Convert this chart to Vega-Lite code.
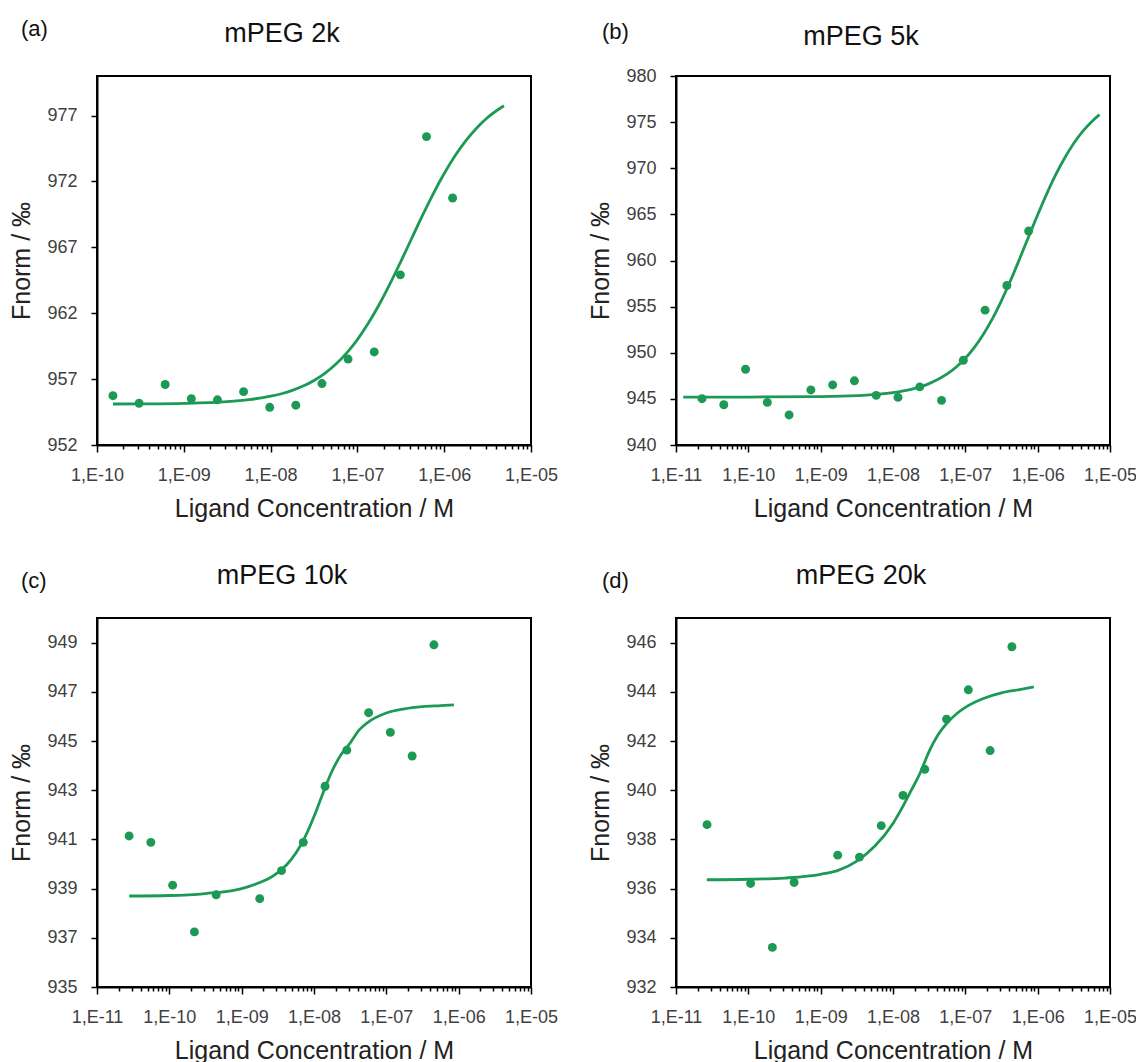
{
  "$schema": "https://vega.github.io/schema/vega-lite/v6.json",
  "background": "white",
  "padding": {"left": 8, "top": 18, "right": 0, "bottom": 0},
  "columns": 2,
  "spacing": {"row": 39, "column": 28},
  "config": {
    "font": "Liberation Sans",
    "view": {"stroke": "#000", "strokeWidth": 2},
    "axis": {"domainColor": "#000", "domainWidth": 2, "tickColor": "#000", "tickWidth": 1.5, "grid": false, "labelFont": "Liberation Sans", "labelFontSize": 18, "labelColor": "#404040", "titleFont": "Liberation Sans", "titleFontSize": 25, "titleFontWeight": "normal", "titleColor": "#222222"},
    "axisX": {"labelPadding": 14, "titlePadding": 12, "labelOverlap": false, "labelFlush": false, "labelBound": false},
    "axisY": {"tickSize": 6, "labelPadding": 14, "titlePadding": 12},
    "title": {"font": "Liberation Sans", "fontWeight": "normal", "color": "#111111"}
  },
  "datasets": {
    "pts": [
      {"p": "a", "c": 1.526e-10, "f": 955.74},
      {"p": "a", "c": 3.052e-10, "f": 955.17},
      {"p": "a", "c": 6.104e-10, "f": 956.59},
      {"p": "a", "c": 1.221e-9, "f": 955.51},
      {"p": "a", "c": 2.441e-9, "f": 955.43},
      {"p": "a", "c": 4.883e-9, "f": 956.05},
      {"p": "a", "c": 9.766e-9, "f": 954.86},
      {"p": "a", "c": 1.953e-8, "f": 955.02},
      {"p": "a", "c": 3.906e-8, "f": 956.66},
      {"p": "a", "c": 7.813e-8, "f": 958.52},
      {"p": "a", "c": 1.563e-7, "f": 959.06},
      {"p": "a", "c": 3.125e-7, "f": 964.91},
      {"p": "a", "c": 6.25e-7, "f": 975.4},
      {"p": "a", "c": 1.25e-6, "f": 970.74},
      {"p": "b", "c": 2.289e-11, "f": 945.02},
      {"p": "b", "c": 4.578e-11, "f": 944.36},
      {"p": "b", "c": 9.155e-11, "f": 948.21},
      {"p": "b", "c": 1.831e-10, "f": 944.62},
      {"p": "b", "c": 3.662e-10, "f": 943.26},
      {"p": "b", "c": 7.324e-10, "f": 945.97},
      {"p": "b", "c": 1.465e-9, "f": 946.52},
      {"p": "b", "c": 2.93e-9, "f": 946.96},
      {"p": "b", "c": 5.859e-9, "f": 945.38},
      {"p": "b", "c": 1.172e-8, "f": 945.16},
      {"p": "b", "c": 2.344e-8, "f": 946.3},
      {"p": "b", "c": 4.688e-8, "f": 944.84},
      {"p": "b", "c": 9.375e-8, "f": 949.19},
      {"p": "b", "c": 1.875e-7, "f": 954.62},
      {"p": "b", "c": 3.75e-7, "f": 957.29},
      {"p": "b", "c": 7.5e-7, "f": 963.19},
      {"p": "c", "c": 2.777e-11, "f": 941.14},
      {"p": "c", "c": 5.554e-11, "f": 940.88},
      {"p": "c", "c": 1.111e-10, "f": 939.14},
      {"p": "c", "c": 2.222e-10, "f": 937.24},
      {"p": "c", "c": 4.443e-10, "f": 938.75},
      {"p": "c", "c": 1.777e-9, "f": 938.59},
      {"p": "c", "c": 3.555e-9, "f": 939.73},
      {"p": "c", "c": 7.109e-9, "f": 940.88},
      {"p": "c", "c": 1.422e-8, "f": 943.16},
      {"p": "c", "c": 2.844e-8, "f": 944.63},
      {"p": "c", "c": 5.688e-8, "f": 946.15},
      {"p": "c", "c": 1.1375e-7, "f": 945.35},
      {"p": "c", "c": 2.275e-7, "f": 944.39},
      {"p": "c", "c": 4.55e-7, "f": 948.91},
      {"p": "d", "c": 2.686e-11, "f": 938.6},
      {"p": "d", "c": 1.074e-10, "f": 936.21},
      {"p": "d", "c": 2.148e-10, "f": 933.61},
      {"p": "d", "c": 4.297e-10, "f": 936.25},
      {"p": "d", "c": 1.719e-9, "f": 937.36},
      {"p": "d", "c": 3.438e-9, "f": 937.28},
      {"p": "d", "c": 6.875e-9, "f": 938.56},
      {"p": "d", "c": 1.375e-8, "f": 939.79},
      {"p": "d", "c": 2.75e-8, "f": 940.85},
      {"p": "d", "c": 5.5e-8, "f": 942.89},
      {"p": "d", "c": 1.1e-7, "f": 944.08},
      {"p": "d", "c": 2.2e-7, "f": 941.61},
      {"p": "d", "c": 4.4e-7, "f": 945.83}
    ],
    "fit": [
      {"p": "a", "c": 1.528e-10, "f": 955.11},
      {"p": "a", "c": 3.162e-10, "f": 955.12},
      {"p": "a", "c": 1e-9, "f": 955.16},
      {"p": "a", "c": 3.162e-9, "f": 955.29},
      {"p": "a", "c": 5.623e-9, "f": 955.44},
      {"p": "a", "c": 1e-8, "f": 955.7},
      {"p": "a", "c": 1.334e-8, "f": 955.89},
      {"p": "a", "c": 1.778e-8, "f": 956.14},
      {"p": "a", "c": 2.371e-8, "f": 956.47},
      {"p": "a", "c": 3.162e-8, "f": 956.9},
      {"p": "a", "c": 4.217e-8, "f": 957.44},
      {"p": "a", "c": 5.623e-8, "f": 958.12},
      {"p": "a", "c": 7.499e-8, "f": 958.97},
      {"p": "a", "c": 1e-7, "f": 960.0},
      {"p": "a", "c": 1.334e-7, "f": 961.23},
      {"p": "a", "c": 1.778e-7, "f": 962.64},
      {"p": "a", "c": 2.371e-7, "f": 964.22},
      {"p": "a", "c": 3.162e-7, "f": 965.92},
      {"p": "a", "c": 4.217e-7, "f": 967.67},
      {"p": "a", "c": 5.623e-7, "f": 969.42},
      {"p": "a", "c": 7.499e-7, "f": 971.08},
      {"p": "a", "c": 1e-6, "f": 972.6},
      {"p": "a", "c": 1.334e-6, "f": 973.95},
      {"p": "a", "c": 1.778e-6, "f": 975.1},
      {"p": "a", "c": 2.371e-6, "f": 976.06},
      {"p": "a", "c": 3.162e-6, "f": 976.85},
      {"p": "a", "c": 4.875e-6, "f": 977.74},
      {"p": "b", "c": 1.259e-11, "f": 945.2},
      {"p": "b", "c": 1e-10, "f": 945.2},
      {"p": "b", "c": 1e-9, "f": 945.25},
      {"p": "b", "c": 3.162e-9, "f": 945.35},
      {"p": "b", "c": 1e-8, "f": 945.67},
      {"p": "b", "c": 1.778e-8, "f": 946.03},
      {"p": "b", "c": 3.162e-8, "f": 946.65},
      {"p": "b", "c": 5.623e-8, "f": 947.7},
      {"p": "b", "c": 7.499e-8, "f": 948.45},
      {"p": "b", "c": 1e-7, "f": 949.4},
      {"p": "b", "c": 1.334e-7, "f": 950.58},
      {"p": "b", "c": 1.778e-7, "f": 952.01},
      {"p": "b", "c": 2.371e-7, "f": 953.7},
      {"p": "b", "c": 3.162e-7, "f": 955.66},
      {"p": "b", "c": 4.217e-7, "f": 957.83},
      {"p": "b", "c": 5.623e-7, "f": 960.17},
      {"p": "b", "c": 7.499e-7, "f": 962.58},
      {"p": "b", "c": 1e-6, "f": 964.96},
      {"p": "b", "c": 1.334e-6, "f": 967.23},
      {"p": "b", "c": 1.778e-6, "f": 969.31},
      {"p": "b", "c": 2.371e-6, "f": 971.14},
      {"p": "b", "c": 3.162e-6, "f": 972.71},
      {"p": "b", "c": 4.217e-6, "f": 974.02},
      {"p": "b", "c": 5.623e-6, "f": 975.08},
      {"p": "b", "c": 7.161e-6, "f": 975.81},
      {"p": "c", "c": 2.79e-11, "f": 938.7},
      {"p": "c", "c": 1e-10, "f": 938.72},
      {"p": "c", "c": 3.162e-10, "f": 938.8},
      {"p": "c", "c": 1e-9, "f": 939.0},
      {"p": "c", "c": 1.778e-9, "f": 939.25},
      {"p": "c", "c": 2.371e-9, "f": 939.41},
      {"p": "c", "c": 3.162e-9, "f": 939.65},
      {"p": "c", "c": 4.217e-9, "f": 939.98},
      {"p": "c", "c": 5.623e-9, "f": 940.45},
      {"p": "c", "c": 7.499e-9, "f": 941.09},
      {"p": "c", "c": 1e-8, "f": 941.93},
      {"p": "c", "c": 1.334e-8, "f": 942.89},
      {"p": "c", "c": 1.778e-8, "f": 943.78},
      {"p": "c", "c": 2.371e-8, "f": 944.45},
      {"p": "c", "c": 3.162e-8, "f": 944.92},
      {"p": "c", "c": 4.217e-8, "f": 945.45},
      {"p": "c", "c": 5.623e-8, "f": 945.77},
      {"p": "c", "c": 1e-7, "f": 946.14},
      {"p": "c", "c": 1.778e-7, "f": 946.31},
      {"p": "c", "c": 3.162e-7, "f": 946.4},
      {"p": "c", "c": 5.623e-7, "f": 946.44},
      {"p": "c", "c": 8.6e-7, "f": 946.47},
      {"p": "d", "c": 2.667e-11, "f": 936.36},
      {"p": "d", "c": 1e-10, "f": 936.38},
      {"p": "d", "c": 3.162e-10, "f": 936.43},
      {"p": "d", "c": 1e-9, "f": 936.58},
      {"p": "d", "c": 1.778e-9, "f": 936.75},
      {"p": "d", "c": 3.162e-9, "f": 937.12},
      {"p": "d", "c": 5.623e-9, "f": 937.73},
      {"p": "d", "c": 1e-8, "f": 938.65},
      {"p": "d", "c": 1.334e-8, "f": 939.28},
      {"p": "d", "c": 1.778e-8, "f": 939.98},
      {"p": "d", "c": 2.371e-8, "f": 940.7},
      {"p": "d", "c": 3.162e-8, "f": 941.58},
      {"p": "d", "c": 4.217e-8, "f": 942.26},
      {"p": "d", "c": 5.623e-8, "f": 942.74},
      {"p": "d", "c": 7.499e-8, "f": 943.1},
      {"p": "d", "c": 1e-7, "f": 943.37},
      {"p": "d", "c": 1.778e-7, "f": 943.73},
      {"p": "d", "c": 3.162e-7, "f": 943.96},
      {"p": "d", "c": 5.623e-7, "f": 944.09},
      {"p": "d", "c": 8.85e-7, "f": 944.2}
    ]
  },
  "concat": [
    {
      "title": {"text": "(a)", "anchor": "start", "frame": "bounds", "fontSize": 22, "dx": 12, "dy": 22, "offset": 0},
      "vconcat": [{
        "width": 434, "height": 369,
        "title": {"text": "mPEG 2k", "anchor": "middle", "frame": "group", "fontSize": 27, "dx": -32, "offset": 7, "baseline": "alphabetic"},
        "layer": [
          {
            "data": {"name": "pts"},
            "transform": [{"filter": "datum.p === 'a'"}],
            "mark": {"type": "circle", "size": 80, "color": "#1d9956", "opacity": 1},
            "encoding": {
              "x": {"field": "c", "type": "quantitative", "scale": {"type": "log", "domain": [1e-10, 1e-5], "nice": false},
                "axis": {"title": "Ligand Concentration / M",
                  "values": [1e-10,2e-10,3e-10,4e-10,5e-10,6e-10,7e-10,8e-10,9e-10,1e-9,2e-9,3e-9,4e-9,5e-9,6e-9,7e-9,8e-9,9e-9,1e-8,2e-8,3e-8,4e-8,5e-8,6e-8,7e-8,8e-8,9e-8,1e-7,2e-7,3e-7,4e-7,5e-7,6e-7,7e-7,8e-7,9e-7,1e-6,2e-6,3e-6,4e-6,5e-6,6e-6,7e-6,8e-6,9e-6,1e-5],
                  "labelExpr": "abs(log(datum.value)/LN10 - round(log(datum.value)/LN10)) < 0.000001 ? '1,E-' + (round(-log(datum.value)/LN10) < 10 ? '0' : '') + round(-log(datum.value)/LN10) : ''",
                  "tickSize": {"condition": {"test": "abs(log(datum.value)/LN10 - round(log(datum.value)/LN10)) < 0.000001", "value": 7}, "value": 4}}},
              "y": {"field": "f", "type": "quantitative", "scale": {"domain": [952, 980], "nice": false, "zero": false},
                "axis": {"title": "Fnorm / ‰", "values": [952, 957, 962, 967, 972, 977], "format": "d"}}
            }
          },
          {
            "data": {"name": "fit"},
            "transform": [{"filter": "datum.p === 'a'"}],
            "mark": {"type": "line", "color": "#1d9956", "strokeWidth": 2.8, "interpolate": "monotone"},
            "encoding": {"x": {"field": "c", "type": "quantitative"}, "y": {"field": "f", "type": "quantitative"}}
          }
        ]
      }]
    },
    {
      "title": {"text": "(b)", "anchor": "start", "frame": "bounds", "fontSize": 22, "dx": 14, "dy": 22, "offset": 0},
      "vconcat": [{
        "width": 434, "height": 369,
        "title": {"text": "mPEG 5k", "anchor": "middle", "frame": "group", "fontSize": 27, "dx": -32, "offset": -5, "baseline": "alphabetic"},
        "layer": [
          {
            "data": {"name": "pts"},
            "transform": [{"filter": "datum.p === 'b'"}],
            "mark": {"type": "circle", "size": 80, "color": "#1d9956", "opacity": 1},
            "encoding": {
              "x": {"field": "c", "type": "quantitative", "scale": {"type": "log", "domain": [1e-11, 1e-5], "nice": false},
                "axis": {"title": "Ligand Concentration / M",
                  "values": [1e-11,2e-11,3e-11,4e-11,5e-11,6e-11,7e-11,8e-11,9e-11,1e-10,2e-10,3e-10,4e-10,5e-10,6e-10,7e-10,8e-10,9e-10,1e-9,2e-9,3e-9,4e-9,5e-9,6e-9,7e-9,8e-9,9e-9,1e-8,2e-8,3e-8,4e-8,5e-8,6e-8,7e-8,8e-8,9e-8,1e-7,2e-7,3e-7,4e-7,5e-7,6e-7,7e-7,8e-7,9e-7,1e-6,2e-6,3e-6,4e-6,5e-6,6e-6,7e-6,8e-6,9e-6,1e-5],
                  "labelExpr": "abs(log(datum.value)/LN10 - round(log(datum.value)/LN10)) < 0.000001 ? '1,E-' + (round(-log(datum.value)/LN10) < 10 ? '0' : '') + round(-log(datum.value)/LN10) : ''",
                  "tickSize": {"condition": {"test": "abs(log(datum.value)/LN10 - round(log(datum.value)/LN10)) < 0.000001", "value": 7}, "value": 4}}},
              "y": {"field": "f", "type": "quantitative", "scale": {"domain": [940, 980], "nice": false, "zero": false},
                "axis": {"title": "Fnorm / ‰", "values": [940, 945, 950, 955, 960, 965, 970, 975, 980], "format": "d"}}
            }
          },
          {
            "data": {"name": "fit"},
            "transform": [{"filter": "datum.p === 'b'"}],
            "mark": {"type": "line", "color": "#1d9956", "strokeWidth": 2.8, "interpolate": "monotone"},
            "encoding": {"x": {"field": "c", "type": "quantitative"}, "y": {"field": "f", "type": "quantitative"}}
          }
        ]
      }]
    },
    {
      "title": {"text": "(c)", "anchor": "start", "frame": "bounds", "fontSize": 22, "dx": 12, "dy": 32, "offset": 0},
      "vconcat": [{
        "width": 434, "height": 369,
        "title": {"text": "mPEG 10k", "anchor": "middle", "frame": "group", "fontSize": 27, "dx": -32, "offset": 7, "baseline": "alphabetic"},
        "layer": [
          {
            "data": {"name": "pts"},
            "transform": [{"filter": "datum.p === 'c'"}],
            "mark": {"type": "circle", "size": 80, "color": "#1d9956", "opacity": 1},
            "encoding": {
              "x": {"field": "c", "type": "quantitative", "scale": {"type": "log", "domain": [1e-11, 1e-5], "nice": false},
                "axis": {"title": "Ligand Concentration / M",
                  "values": [1e-11,2e-11,3e-11,4e-11,5e-11,6e-11,7e-11,8e-11,9e-11,1e-10,2e-10,3e-10,4e-10,5e-10,6e-10,7e-10,8e-10,9e-10,1e-9,2e-9,3e-9,4e-9,5e-9,6e-9,7e-9,8e-9,9e-9,1e-8,2e-8,3e-8,4e-8,5e-8,6e-8,7e-8,8e-8,9e-8,1e-7,2e-7,3e-7,4e-7,5e-7,6e-7,7e-7,8e-7,9e-7,1e-6,2e-6,3e-6,4e-6,5e-6,6e-6,7e-6,8e-6,9e-6,1e-5],
                  "labelExpr": "abs(log(datum.value)/LN10 - round(log(datum.value)/LN10)) < 0.000001 ? '1,E-' + (round(-log(datum.value)/LN10) < 10 ? '0' : '') + round(-log(datum.value)/LN10) : ''",
                  "tickSize": {"condition": {"test": "abs(log(datum.value)/LN10 - round(log(datum.value)/LN10)) < 0.000001", "value": 7}, "value": 4}}},
              "y": {"field": "f", "type": "quantitative", "scale": {"domain": [935, 950], "nice": false, "zero": false},
                "axis": {"title": "Fnorm / ‰", "values": [935, 937, 939, 941, 943, 945, 947, 949], "format": "d"}}
            }
          },
          {
            "data": {"name": "fit"},
            "transform": [{"filter": "datum.p === 'c'"}],
            "mark": {"type": "line", "color": "#1d9956", "strokeWidth": 2.8, "interpolate": "monotone"},
            "encoding": {"x": {"field": "c", "type": "quantitative"}, "y": {"field": "f", "type": "quantitative"}}
          }
        ]
      }]
    },
    {
      "title": {"text": "(d)", "anchor": "start", "frame": "bounds", "fontSize": 22, "dx": 14, "dy": 32, "offset": 0},
      "vconcat": [{
        "width": 434, "height": 369,
        "title": {"text": "mPEG 20k", "anchor": "middle", "frame": "group", "fontSize": 27, "dx": -32, "offset": 7, "baseline": "alphabetic"},
        "layer": [
          {
            "data": {"name": "pts"},
            "transform": [{"filter": "datum.p === 'd'"}],
            "mark": {"type": "circle", "size": 80, "color": "#1d9956", "opacity": 1},
            "encoding": {
              "x": {"field": "c", "type": "quantitative", "scale": {"type": "log", "domain": [1e-11, 1e-5], "nice": false},
                "axis": {"title": "Ligand Concentration / M",
                  "values": [1e-11,2e-11,3e-11,4e-11,5e-11,6e-11,7e-11,8e-11,9e-11,1e-10,2e-10,3e-10,4e-10,5e-10,6e-10,7e-10,8e-10,9e-10,1e-9,2e-9,3e-9,4e-9,5e-9,6e-9,7e-9,8e-9,9e-9,1e-8,2e-8,3e-8,4e-8,5e-8,6e-8,7e-8,8e-8,9e-8,1e-7,2e-7,3e-7,4e-7,5e-7,6e-7,7e-7,8e-7,9e-7,1e-6,2e-6,3e-6,4e-6,5e-6,6e-6,7e-6,8e-6,9e-6,1e-5],
                  "labelExpr": "abs(log(datum.value)/LN10 - round(log(datum.value)/LN10)) < 0.000001 ? '1,E-' + (round(-log(datum.value)/LN10) < 10 ? '0' : '') + round(-log(datum.value)/LN10) : ''",
                  "tickSize": {"condition": {"test": "abs(log(datum.value)/LN10 - round(log(datum.value)/LN10)) < 0.000001", "value": 7}, "value": 4}}},
              "y": {"field": "f", "type": "quantitative", "scale": {"domain": [932, 947], "nice": false, "zero": false},
                "axis": {"title": "Fnorm / ‰", "values": [932, 934, 936, 938, 940, 942, 944, 946], "format": "d"}}
            }
          },
          {
            "data": {"name": "fit"},
            "transform": [{"filter": "datum.p === 'd'"}],
            "mark": {"type": "line", "color": "#1d9956", "strokeWidth": 2.8, "interpolate": "monotone"},
            "encoding": {"x": {"field": "c", "type": "quantitative"}, "y": {"field": "f", "type": "quantitative"}}
          }
        ]
      }]
    }
  ]
}
